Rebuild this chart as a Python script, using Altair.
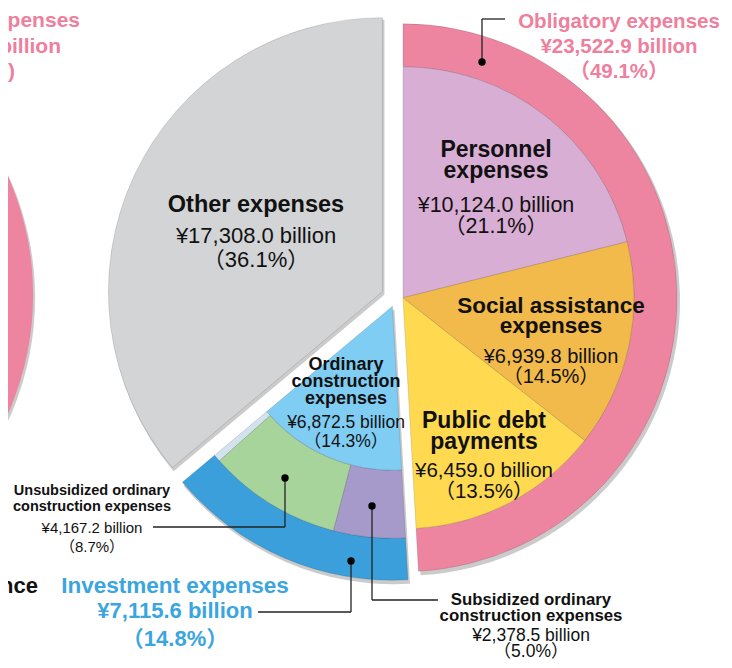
import altair as alt
import pandas as pd
import numpy as np

# ---------------- DATA ----------------
group_names = ["Obligatory expenses", "Investment expenses", "Other expenses"]
group_pct = [49.1, 14.8, 36.1]
group_amt = ["¥23,522.9  billion", "¥7,115.6 billion", "¥17,308.0 billion"]

obl_names = ["Personnel\nexpenses", "Social assistance\nexpenses", "Public debt\npayments"]
obl_pct = [21.1, 14.5, 13.5]
obl_amt = ["¥10,124.0 billion", "¥6,939.8 billion", "¥6,459.0 billion"]

ord_name = "Ordinary\nconstruction\nexpenses"
ord_pct = 14.3
ord_amt = "¥6,872.5 billion"

sub_names = ["Subsidized ordinary\nconstruction expenses", "Unsubsidized ordinary\nconstruction expenses"]
sub_pct = [5.0, 8.7]
sub_amt = ["¥2,378.5 billion", "¥4,167.2 billion"]

# ---------------- LAYOUT / STYLE ----------------
PAGE = 8
W, H = 716, 652
BASE = (396, 298)
EXPLODE = [7, 9, 15]
R_OUT, R_OBL_IN, R_INV_MID, R_INV_IN = 274, 231, 232, 164

C_PINK, C_BLUE, C_GRAY = "#EE85A0", "#3A9FDA", "#D2D4D6"
OBL_COLORS = ["#D9AED4", "#F2BA4A", "#FFDA50"]
C_LBLUE = "#80CDF4"
SUB_COLORS = ["#A69ACB", "#A7D49B"]
C_SLIVER = "#D3E3EE"
T_PINK, T_BLUE, T_BLACK = "#EE7F9D", "#3AA5E0", "#111111"
FONT = "Liberation Sans, Arial, Noto Sans CJK JP, sans-serif"

def px(x):
    return x - PAGE

def fmt_pct(p):
    return "（" + f"{p:.1f}" + "%）"

# group centres (exploded)
cum = np.concatenate([[0], np.cumsum(group_pct)])
centres = []
for i in range(3):
    mid = (cum[i] + cum[i + 1]) / 2 / 100 * 2 * np.pi
    centres.append((BASE[0] + EXPLODE[i] * np.sin(mid), BASE[1] - EXPLODE[i] * np.cos(mid)))

rows = []
def add(name, g, s, e, r0, r1, color):
    rows.append(dict(name=name, start=s, end=e, r0=r0, r1=r1, color=color,
                     cx=px(centres[g][0]), cy=px(centres[g][1])))

# obligatory
add("obl_ring", 0, cum[0], cum[1], R_OBL_IN, R_OUT, C_PINK)
oc = np.concatenate([[cum[0]], cum[0] + np.cumsum(obl_pct)])
for i, n in enumerate(obl_names):
    add(n, 0, oc[i], oc[i + 1], 0, R_OBL_IN, OBL_COLORS[i])
# investment: outer ring = investment total, middle band = ordinary construction split,
# thin sliver = investment not in ordinary construction
add("inv_ring", 1, cum[1], cum[2], R_INV_MID, R_OUT, C_BLUE)
ord_end = cum[1] + ord_pct
add(sub_names[0], 1, cum[1], cum[1] + sub_pct[0], R_INV_IN, R_INV_MID, SUB_COLORS[0])
add(sub_names[1], 1, cum[1] + sub_pct[0], ord_end, R_INV_IN, R_INV_MID, SUB_COLORS[1])
add("inv_rest", 1, ord_end, cum[2], R_INV_IN, R_INV_MID, C_SLIVER)
add(ord_name, 1, cum[1], cum[2], 0, R_INV_IN, C_LBLUE)
# other
add("other", 2, cum[2], cum[3], 0, R_OUT, C_GRAY)
arcs = pd.DataFrame(rows)

shadow = pd.DataFrame([dict(start=cum[i], end=cum[i + 1], r0=0, r1=R_OUT + 1,
                            cx=px(centres[i][0]) + 2, cy=px(centres[i][1]) + 3) for i in range(3)])
# neighbouring chart (cropped at the left edge)
neigh = pd.DataFrame([dict(start=0, end=100, r0=0, r1=293, cx=px(-260), cy=px(295), color=C_PINK)])
neigh_sh = neigh.assign(cx=neigh.cx + 2, cy=neigh.cy + 3)

theta_scale = alt.Scale(domain=[0, 100], range=[0, 2 * np.pi])

def arc_enc(ch, with_color=True):
    enc = dict(
        x=alt.X("cx:Q", scale=None, axis=None),
        y=alt.Y("cy:Q", scale=None, axis=None),
        theta=alt.Theta("start:Q", scale=theta_scale, stack=None),
        theta2="end:Q",
        radius=alt.Radius("r1:Q", scale=None),
        radius2="r0:Q",
    )
    if with_color:
        enc["color"] = alt.Color("color:N", scale=None)
    return ch.encode(**enc)

base_sh = arc_enc(alt.Chart(pd.concat([shadow, neigh_sh])).mark_arc(color="#8c8c8c", opacity=0.45), False)
neigh_layer = arc_enc(alt.Chart(neigh).mark_arc())
arc_layer = arc_enc(alt.Chart(arcs).mark_arc(stroke="#000000", strokeOpacity=0.12, strokeWidth=1))

# ---------------- LABELS ----------------
bold, reg, frag = [], [], []
def block(x, y, name, size, lh, color, amt=None, pct=None, ya=None, rsize=None, rlh=None, amt_bold=False):
    for k, line in enumerate(name.split("\n")):
        bold.append(dict(x=px(x), y=px(y + k * lh), text=line, size=size, color=color))
    if amt is not None:
        tgt = bold if amt_bold else reg
        tgt.append(dict(x=px(x), y=px(ya), text=amt, size=rsize, color=color))
        tgt.append(dict(x=px(x), y=px(ya + rlh), text=fmt_pct(pct), size=rsize, color=color))

block(619, 28, group_names[0], 20.5, 25, T_PINK, group_amt[0], group_pct[0], 53, 20.5, 25, True)
block(175, 593, group_names[1], 22.5, 25, T_BLUE, group_amt[1], group_pct[1], 618, 22, 28, True)
block(256, 212, group_names[2], 23.5, 22, T_BLACK, group_amt[2], group_pct[2], 243, 22, 24)
block(496, 157, obl_names[0], 23, 21, T_BLACK, obl_amt[0], obl_pct[0], 212, 21.5, 21)
block(551, 313, obl_names[1], 22.5, 20, T_BLACK, obl_amt[1], obl_pct[1], 363, 20, 20)
block(484, 428, obl_names[2], 23, 21, T_BLACK, obl_amt[2], obl_pct[2], 477, 20.5, 21)
block(346, 370, ord_name, 18, 17, T_BLACK, ord_amt, ord_pct, 428, 17.5, 19)
block(92, 495, sub_names[1], 14.5, 16, T_BLACK, sub_amt[1], sub_pct[1], 533, 15, 19)
block(531, 605, sub_names[0], 16.8, 16, T_BLACK, sub_amt[0], sub_pct[0], 641, 17.5, 16)

frag.append(dict(x=px(80), y=px(27), text="xpenses", size=21, color=T_PINK))
frag.append(dict(x=px(61), y=px(53), text="billion", size=21, color=T_PINK))
frag.append(dict(x=px(15), y=px(78), text="%)", size=21, color=T_PINK))
frag.append(dict(x=px(38), y=px(593), text="nce", size=22, color=T_BLACK))

def text_layer(df, weight, align):
    return alt.Chart(pd.DataFrame(df)).mark_text(
        align=align, baseline="alphabetic", font=FONT, fontWeight=weight
    ).encode(
        x=alt.X("x:Q", scale=None, axis=None),
        y=alt.Y("y:Q", scale=None, axis=None),
        text="text:N",
        size=alt.Size("size:Q", scale=None),
        color=alt.Color("color:N", scale=None),
    )

# leader lines (reference pixel positions)
leaders = [
    [(482, 62), (482, 19), (505, 19)],
    [(285, 478), (285, 527), (153, 527)],
    [(372, 506), (372, 600), (438, 600)],
    [(351, 561), (351, 612), (258, 612)],
]
segs, dots = [], []
for path in leaders:
    dots.append(dict(x=px(path[0][0]), y=px(path[0][1])))
    for a, b in zip(path[:-1], path[1:]):
        segs.append(dict(x=px(a[0]), y=px(a[1]), x2=px(b[0]), y2=px(b[1])))

seg_layer = alt.Chart(pd.DataFrame(segs)).mark_rule(color="#222222", strokeWidth=1.3).encode(
    x=alt.X("x:Q", scale=None, axis=None), y=alt.Y("y:Q", scale=None, axis=None),
    x2="x2:Q", y2="y2:Q")
dot_layer = alt.Chart(pd.DataFrame(dots)).mark_circle(color="#000000", size=55, opacity=1).encode(
    x=alt.X("x:Q", scale=None, axis=None), y=alt.Y("y:Q", scale=None, axis=None))

chart = alt.layer(
    base_sh, neigh_layer, arc_layer, seg_layer, dot_layer,
    text_layer(bold, "bold", "center"),
    text_layer(reg, "normal", "center"),
    text_layer(frag, "bold", "right"),
).properties(
    width=W, height=H, padding=0,
    autosize=alt.AutoSizeParams(type="none"),
).configure_view(stroke=None)

chart.save("out.html", embed_options={"renderer": "svg", "actions": False})
